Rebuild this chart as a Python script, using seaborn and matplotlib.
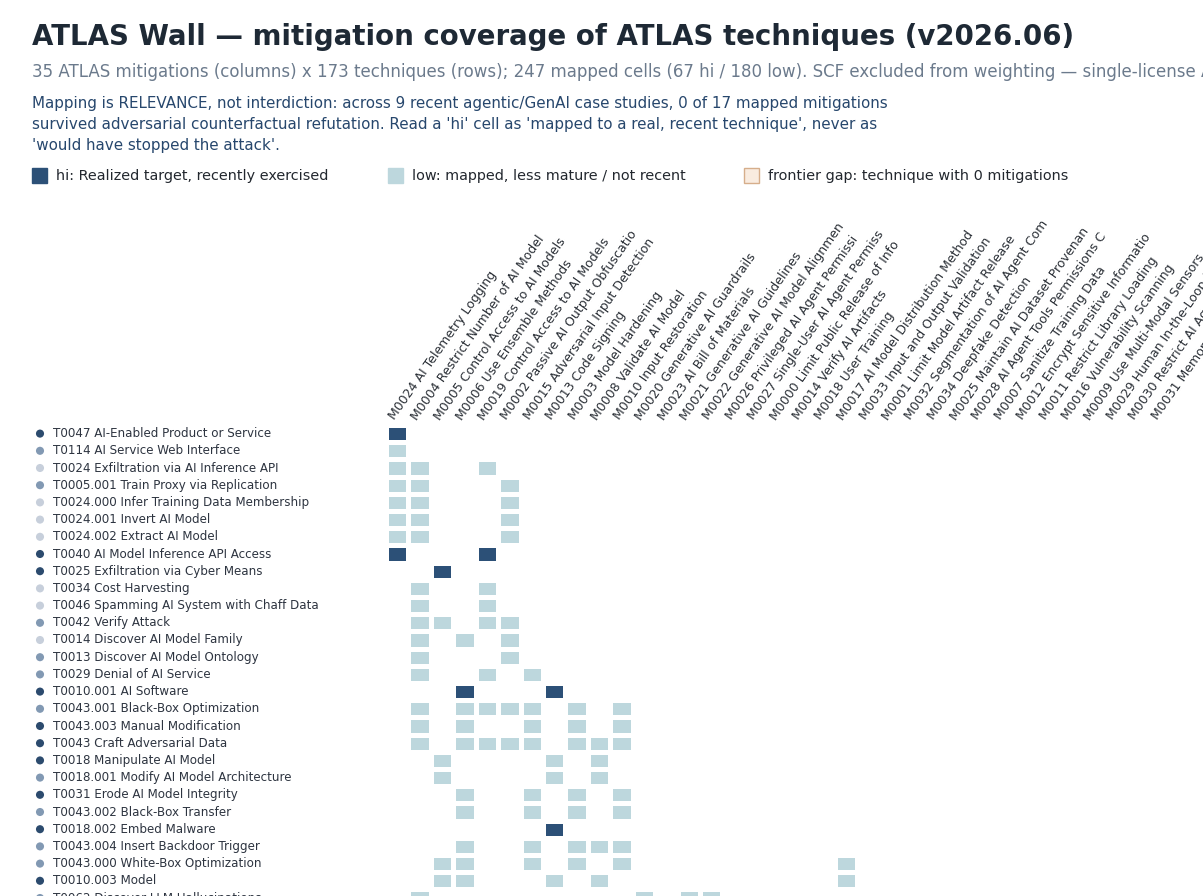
import numpy as np
import pandas as pd
import matplotlib
matplotlib.use('Agg')
import matplotlib.pyplot as plt
import matplotlib.transforms as mtransforms
from matplotlib.colors import ListedColormap
from matplotlib.patches import Rectangle
import seaborn as sns

# mitigations (columns), labels already cut to 28 chars like the original
mitigations = [
    'M0024 AI Telemetry Logging', 'M0004 Restrict Number of AI Model',
    'M0005 Control Access to AI Models', 'M0006 Use Ensemble Methods',
    'M0019 Control Access to AI Models', 'M0002 Passive AI Output Obfuscatio',
    'M0015 Adversarial Input Detection', 'M0013 Code Signing',
    'M0003 Model Hardening', 'M0008 Validate AI Model',
    'M0010 Input Restoration', 'M0020 Generative AI Guardrails',
    'M0023 AI Bill of Materials', 'M0021 Generative AI Guidelines',
    'M0022 Generative AI Model Alignmen', 'M0026 Privileged AI Agent Permissi',
    'M0027 Single-User AI Agent Permiss', 'M0000 Limit Public Release of Info',
    'M0014 Verify AI Artifacts', 'M0018 User Training',
    'M0017 AI Model Distribution Method', 'M0033 Input and Output Validation',
    'M0001 Limit Model Artifact Release', 'M0032 Segmentation of AI Agent Com',
    'M0034 Deepfake Detection', 'M0025 Maintain AI Dataset Provenan',
    'M0028 AI Agent Tools Permissions C', 'M0007 Sanitize Training Data',
    'M0012 Encrypt Sensitive Informatio', 'M0011 Restrict Library Loading',
    'M0016 Vulnerability Scanning', 'M0009 Use Multi-Modal Sensors',
    'M0029 Human In-the-Loop for AI Age', 'M0030 Restrict AI Agent Tool Invoc',
    'M0031 Memory Hardening',
]

# techniques (rows) visible in the crop
techniques = [
    'T0047 AI-Enabled Product or Service', 'T0114 AI Service Web Interface',
    'T0024 Exfiltration via AI Inference API', 'T0005.001 Train Proxy via Replication',
    'T0024.000 Infer Training Data Membership', 'T0024.001 Invert AI Model',
    'T0024.002 Extract AI Model', 'T0040 AI Model Inference API Access',
    'T0025 Exfiltration via Cyber Means', 'T0034 Cost Harvesting',
    'T0046 Spamming AI System with Chaff Data', 'T0042 Verify Attack',
    'T0014 Discover AI Model Family', 'T0013 Discover AI Model Ontology',
    'T0029 Denial of AI Service', 'T0010.001 AI Software',
    'T0043.001 Black-Box Optimization', 'T0043.003 Manual Modification',
    'T0043 Craft Adversarial Data', 'T0018 Manipulate AI Model',
    'T0018.001 Modify AI Model Architecture', 'T0031 Erode AI Model Integrity',
    'T0043.002 Black-Box Transfer', 'T0018.002 Embed Malware',
    'T0043.004 Insert Backdoor Trigger', 'T0043.000 White-Box Optimization',
    'T0010.003 Model', 'T0062 Discover LLM Hallucinations',
]

# technique tier shown by the dot: 2 = realized, 1 = mid, 0 = low
tier = [2, 1, 0, 1, 0, 0, 0, 2, 2, 0, 0, 1, 0, 1,
        1, 2, 1, 2, 2, 2, 1, 2, 1, 2, 1, 1, 2, 1]

# mitigation column indices per technique row
low_cols = [
    [], [0], [0, 1, 4], [0, 1, 5], [0, 1, 5], [0, 1, 5], [0, 1, 5], [],
    [], [1, 4], [1, 4], [1, 2, 4, 5], [1, 3, 5], [1, 5],
    [1, 4, 6], [], [1, 3, 4, 5, 6, 8, 10], [1, 3, 6, 8, 10],
    [1, 3, 4, 5, 6, 8, 9, 10], [2, 7, 9], [2, 7, 9], [3, 6, 8, 10],
    [3, 6, 8, 10], [], [3, 6, 8, 9, 10], [2, 3, 6, 8, 10, 20],
    [2, 3, 7, 9, 20], [1, 11, 13, 14],
]
hi_cols = [
    [0], [], [], [], [], [], [], [0, 4],
    [2], [], [], [], [], [],
    [], [3, 7], [], [],
    [], [], [], [],
    [], [7], [], [],
    [], [],
]

HI = '#2c5077'
LOW = '#bdd7dd'
DOT = {2: '#2c4b6e', 1: '#8299b3', 0: '#c7cfdb'}

mat = np.zeros((len(techniques), len(mitigations)))
for r in range(len(techniques)):
    mat[r, low_cols[r]] = 1
    mat[r, hi_cols[r]] = 2
df = pd.DataFrame(mat, index=techniques, columns=mitigations)

W, H = 1203, 896
fig = plt.figure(figsize=(W / 100, H / 100), dpi=100)
fig.patch.set_facecolor('white')

def fx(x):
    return x / W

def fy(y):
    return 1 - y / H

# grid area: 35 columns of ~22.4px starting at x=386, rows of ~17.2px from y=425
col_w, row_h = 22.43, 17.2
left, top = 386, 425
ax = fig.add_axes([fx(left), fy(top + row_h * len(techniques)),
                   col_w * len(mitigations) / W, row_h * len(techniques) / H])

ax.vlines(np.arange(len(mitigations) + 1), 0, len(techniques),
          colors='#eceff3', lw=1, zorder=0.5)
sns.heatmap(df, mask=(df == 0), cmap=ListedColormap([LOW, HI]), vmin=0.5, vmax=2.5,
            cbar=False, linewidths=2.3, linecolor='white',
            xticklabels=True, yticklabels=True, ax=ax)

ax.xaxis.tick_top()
ax.set_xticklabels(mitigations, rotation=55, ha='left', rotation_mode='anchor',
                   fontsize=9, color='#2a2f36')
ax.tick_params(axis='x', length=0, pad=2, top=True, bottom=False,
               labeltop=True, labelbottom=False)
ax.set_yticklabels(techniques, rotation=0, ha='left', fontsize=8.6, color='#2d3440')
ax.tick_params(axis='y', length=0, pad=(left - 53) * 0.72)
ax.set_xlabel('')
ax.set_ylabel('')

# tier dots left of the technique names
blend = mtransforms.blended_transform_factory(fig.transFigure, ax.transData)
ax.scatter(np.full(len(techniques), fx(40)), np.arange(len(techniques)) + 0.5,
           c=[DOT[t] for t in tier], s=34, transform=blend, clip_on=False,
           linewidths=0)

# header texts
fig.text(fx(32), fy(45), 'ATLAS Wall \u2014 mitigation coverage of ATLAS techniques (v2026.06)',
         fontsize=19.9, fontweight='bold', color='#1e2935', va='baseline')
fig.text(fx(32), fy(77),
         '35 ATLAS mitigations (columns) x 173 techniques (rows); 247 mapped cells '
         '(67 hi / 180 low). SCF excluded from weighting \u2014 single-license AI frameworks',
         fontsize=12, color='#6b7a8c', va='baseline')
note = [
    'Mapping is RELEVANCE, not interdiction: across 9 recent agentic/GenAI case studies, 0 of 17 mapped mitigations',
    "survived adversarial counterfactual refutation. Read a 'hi' cell as 'mapped to a real, recent technique', never as",
    "'would have stopped the attack'.",
]
for i, line in enumerate(note):
    fig.text(fx(32), fy(108 + 21 * i), line, fontsize=10.9, color='#27476d', va='baseline')

# legend
legend_items = [
    (32, HI, HI, 'hi: Realized target, recently exercised'),
    (388, LOW, LOW, 'low: mapped, less mature / not recent'),
    (744, '#f9ece0', '#d6ae8b', 'frontier gap: technique with 0 mitigations'),
]
for x, fc, ec, label in legend_items:
    fig.patches.append(Rectangle((fx(x), fy(183)), 15 / W, 15 / H, transform=fig.transFigure,
                                 facecolor=fc, edgecolor=ec, lw=1))
    fig.text(fx(x + 24), fy(180), label, fontsize=10.4, color='#22272e', va='baseline')

fig.savefig('out.png', dpi=100)
